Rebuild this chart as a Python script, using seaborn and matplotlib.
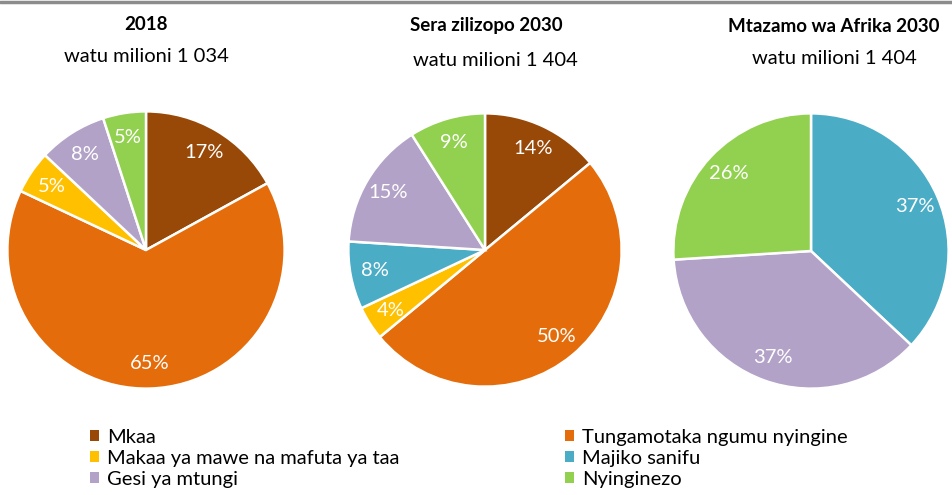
import matplotlib
matplotlib.use("Agg")
import matplotlib.pyplot as plt
import seaborn as sns
from matplotlib.patches import Patch
from matplotlib.lines import Line2D

sns.set_theme(style="white")
plt.rcParams['font.family'] = ['Lato', 'DejaVu Sans']

categories = ["Mkaa", "Tungamotaka ngumu nyingine", "Makaa ya mawe na mafuta ya taa",
              "Majiko sanifu", "Gesi ya mtungi", "Nyinginezo"]
colors = ["#984807", "#E46C0A", "#FFC000", "#4BACC6", "#B2A2C7", "#92D050"]

titles = ["2018", "Sera zilizopo 2030", "Mtazamo wa Afrika 2030"]
subtitles = ["watu milioni 1 034", "watu milioni 1 404", "watu milioni 1 404"]

values_2018 = [17, 65, 5, 0, 8, 5]
values_sera = [14, 50, 4, 8, 15, 9]
values_afrika = [0, 0, 0, 37, 37, 26]
all_values = [values_2018, values_sera, values_afrika]

fig = plt.figure(figsize=(9.53, 4.95), dpi=100)
W, H = 953, 495

centers = [(146, 250), (485, 250), (811, 251)]
radii = [140, 138, 139]
title_pos = [(146, 24), (486, 26), (834, 26)]
sub_pos = [(146, 57), (495, 61), (834, 59)]

for vals, (cx, cy), r, t, s, tp, sp in zip(all_values, centers, radii, titles, subtitles, title_pos, sub_pos):
    ax = fig.add_axes([(cx - r) / W, 1 - (cy + r) / H, 2 * r / W, 2 * r / H])
    idx = [i for i, v in enumerate(vals) if v > 0]
    v = [vals[i] for i in idx]
    c = [colors[i] for i in idx]
    labs = [f"{vals[i]}%" for i in idx]
    wedges, texts = ax.pie(v, colors=c, startangle=90, counterclock=False,
                           labels=labs, labeldistance=0.82,
                           wedgeprops=dict(edgecolor="white", linewidth=1.8),
                           textprops=dict(color="white", fontsize=14.5, ha="center", va="center"))
    for tx in texts:
        tx.set_ha("center")
        tx.set_va("center")
    ax.set_aspect("equal")
    ax.set_xlim(-1.01, 1.01)
    ax.set_ylim(-1.01, 1.01)
    ax.axis("off")
    fig.text(tp[0] / W, 1 - tp[1] / H, t, ha="center", va="center", fontsize=13.5,
             fontweight="bold", color="black")
    fig.text(sp[0] / W, 1 - sp[1] / H, s, ha="center", va="center", fontsize=14.5, color="black")

fig.add_artist(Line2D([0, 1], [1 - 2 / H, 1 - 2 / H], color="#8c8c8c", linewidth=2.5))

handles = [Patch(facecolor=col, edgecolor="none") for col in colors]
leg_kw = dict(frameon=False, fontsize=14.5, handlelength=0.45, handleheight=0.45,
              handletextpad=0.4, labelspacing=0.2, borderpad=0, borderaxespad=0)
l1 = fig.legend([handles[0], handles[2], handles[4]], [categories[0], categories[2], categories[4]],
                loc="upper left", bbox_to_anchor=(90 / W, 1 - 429 / H), **leg_kw)
l2 = fig.legend([handles[1], handles[3], handles[5]], [categories[1], categories[3], categories[5]],
                loc="upper left", bbox_to_anchor=(565 / W, 1 - 429 / H), **leg_kw)
for l in (l1, l2):
    for tx in l.get_texts():
        tx.set_color("black")

fig.savefig("out.png", dpi=100, facecolor="white")
